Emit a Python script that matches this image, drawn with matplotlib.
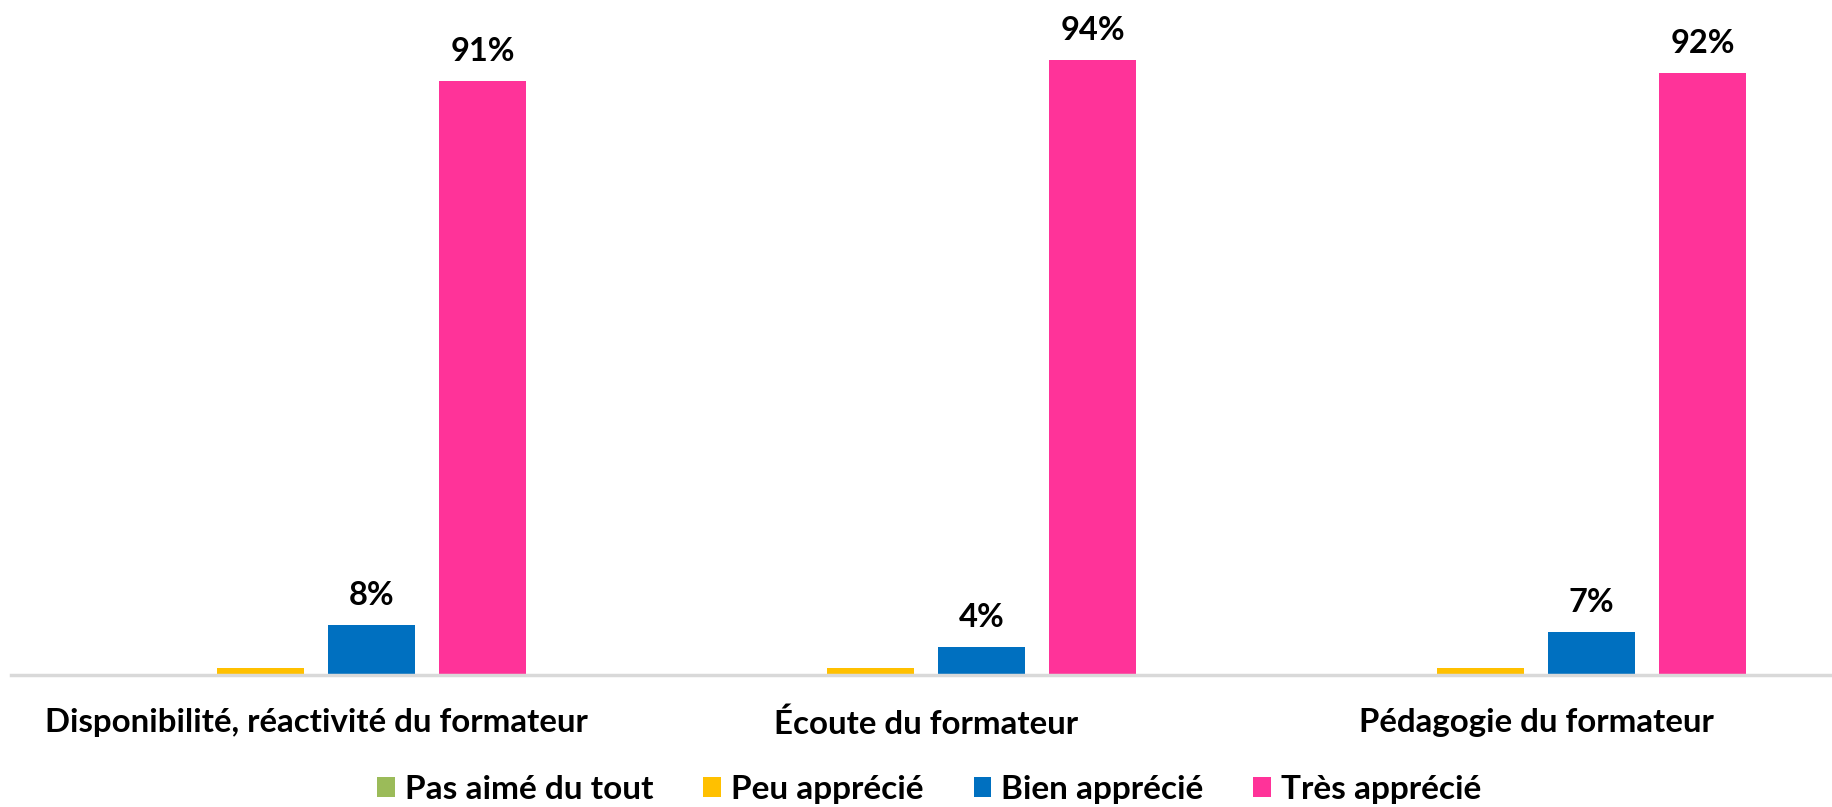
import numpy as np
import matplotlib.pyplot as plt

plt.rcParams['font.family'] = ['Lato', 'DejaVu Sans']
plt.rcParams['font.weight'] = 'bold'

categories = ["Disponibilité, réactivité du formateur", "Écoute du formateur", "Pédagogie du formateur"]
series = ["Pas aimé du tout", "Peu apprécié", "Bien apprécié", "Très apprécié"]
pas_aime = [0.0, 0.0, 0.0]
peu_apprecie = [0.011, 0.010, 0.010]
bien_apprecie = [0.077, 0.043, 0.066]
tres_apprecie = [0.912, 0.944, 0.924]
colors = ["#9BBB59", "#FFC000", "#0070C0", "#FF3399"]
show_labels = [False, False, True, True]

fig = plt.figure(figsize=(18.33, 8.07), dpi=100)
ax = fig.add_axes([0.006, 0.1636, 0.9984, 0.8067])

x = np.arange(len(categories))
step = 0.182
width = 0.1426
for i, (vals, col, lab) in enumerate(zip([pas_aime, peu_apprecie, bien_apprecie, tres_apprecie], colors, show_labels)):
    bars = ax.bar(x + (i - 1.5) * step, vals, width, color=col, label=series[i])
    if lab:
        ax.bar_label(bars, labels=[f"{v:.0%}" for v in vals], padding=11,
                     fontsize=23.5, fontweight='bold')

ax.set_xlim(-0.5, 2.5)
ax.set_ylim(0, 1.0)
ax.set_xticks(x)
ax.set_xticklabels(categories, fontsize=23.8, fontweight='bold')
ax.tick_params(axis='x', length=0, pad=24)
ax.set_yticks([])
for s in ['top', 'right', 'left']:
    ax.spines[s].set_visible(False)
ax.spines['bottom'].set_color('#d9d9d9')
ax.spines['bottom'].set_linewidth(2.5)

fig.legend(loc='center', bbox_to_anchor=(0.507, 0.022), ncol=4, frameon=False,
           handlelength=0.53, handleheight=0.53, handletextpad=0.3,
           columnspacing=1.5, prop={'weight': 'bold', 'size': 24})

fig.savefig("out.png", dpi=100)
